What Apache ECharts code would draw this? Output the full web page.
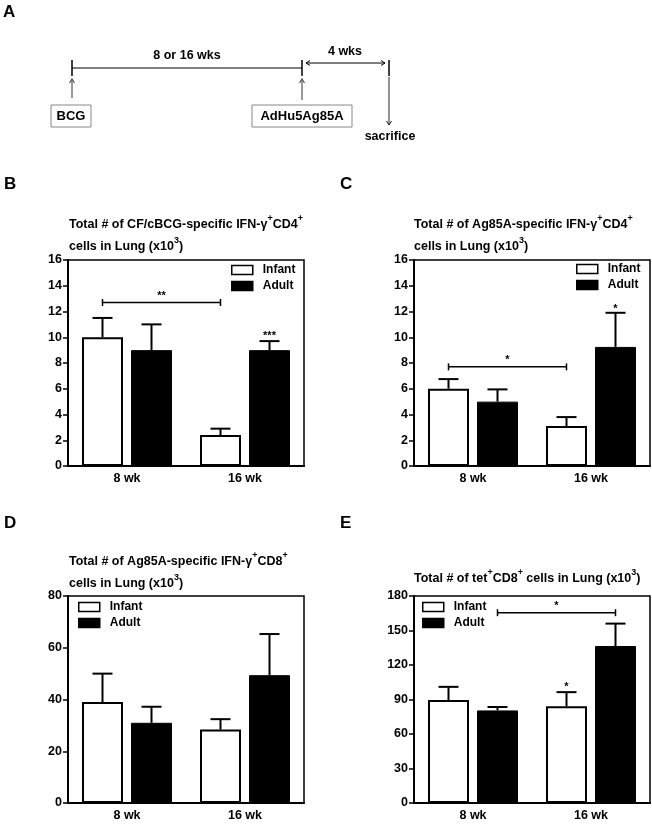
<!DOCTYPE html>
<html>
<head>
<meta charset="utf-8">
<script src="https://cdn.jsdelivr.net/npm/echarts@6/dist/echarts.min.js"></script>
<style>
html,body{margin:0;padding:0;background:#fff;}
#chart{width:652px;height:824px;}
</style>
</head>
<body>
<div id="chart"></div>
<script>
// ---- data ----
var categories = ['8 wk', '16 wk'];
var seriesNames = ['Infant', 'Adult'];

var B_infant = [10.0, 2.4];   var B_infantErr = [1.5, 0.5];
var B_adult  = [9.0, 9.0];    var B_adultErr  = [2.0, 0.7];
var C_infant = [6.0, 3.1];    var C_infantErr = [0.75, 0.7];
var C_adult  = [5.0, 9.25];   var C_adultErr  = [0.95, 2.65];
var D_infant = [39.0, 28.4];  var D_infantErr = [11.0, 4.0];
var D_adult  = [31.0, 49.4];  var D_adultErr  = [6.2, 15.9];
var E_infant = [89.5, 84.2];  var E_infantErr = [11.5, 12.2];
var E_adult  = [80.5, 136.5]; var E_adultErr  = [3.0, 19.5];

var yMax = [16, 16, 80, 180];
var yStep = [2, 2, 20, 30];

// brackets: [category1, side1(-1 infant / +1 adult), category2, side2, yValue]
var B_brackets = [[0, -1, 1, -1, 12.7]]; var B_bracketText = ['**'];
var C_brackets = [[0, -1, 1, -1, 7.7]];  var C_bracketText = ['*'];
var D_brackets = [];                     var D_bracketText = [];
var E_brackets = [[0, 1, 1, 1, 165.5]];  var E_bracketText = ['*'];
// single stars: [category, side, yValue]
var B_stars = [[1, 1, 10.1]];  var B_starText = ['***'];
var C_stars = [[1, 1, 12.2]];  var C_starText = ['*'];
var D_stars = [];              var D_starText = [];
var E_stars = [[1, -1, 100.5]]; var E_starText = ['*'];

var panelTitles = [
  '{t|Total # of CF/cBCG-specific IFN-γ}{s|+}{t|CD4}{s|+}\n{t|cells in Lung (x10}{s|3}{t|)}',
  '{t|Total # of Ag85A-specific IFN-γ}{s|+}{t|CD4}{s|+}\n{t|cells in Lung (x10}{s|3}{t|)}',
  '{t|Total # of Ag85A-specific IFN-γ}{s|+}{t|CD8}{s|+}\n{t|cells in Lung (x10}{s|3}{t|)}',
  '{t|Total # of tet}{s|+}{t|CD8}{s|+}{t| cells in Lung (x10}{s|3}{t|)}'
];
var panelLetters = ['A', 'B', 'C', 'D', 'E'];

// ---- layout / style ----
var FONT = '"Liberation Sans", Arial, sans-serif';
var BAR_W = 41, BAR_GAP = 8;
var grids = [
  {left: 68,  top: 260, width: 236, height: 206},
  {left: 414, top: 260, width: 236, height: 206},
  {left: 68,  top: 596, width: 236, height: 207},
  {left: 414, top: 596, width: 236, height: 207}
];
var titlePos = [
  {left: 69, top: 214}, {left: 414, top: 214},
  {left: 69, top: 551}, {left: 414, top: 568}
];
var legendPos = [
  {left: 231, top: 264}, {left: 576, top: 263},
  {left: 78, top: 601},  {left: 422, top: 601}
];
var letterPos = [[3, 4], [4, 176], [340, 176], [4, 515], [340, 515]];

var infantVals = [B_infant, C_infant, D_infant, E_infant];
var infantErrs = [B_infantErr, C_infantErr, D_infantErr, E_infantErr];
var adultVals = [B_adult, C_adult, D_adult, E_adult];
var adultErrs = [B_adultErr, C_adultErr, D_adultErr, E_adultErr];
var brackets = [B_brackets, C_brackets, D_brackets, E_brackets];
var bracketTexts = [B_bracketText, C_bracketText, D_bracketText, E_bracketText];
var stars = [B_stars, C_stars, D_stars, E_stars];
var starTexts = [B_starText, C_starText, D_starText, E_starText];

var chart = echarts.init(document.getElementById('chart'), null, {renderer: 'canvas'});
var OFF = (BAR_W + BAR_GAP) / 2;

function errRender(side) {
  return function (params, api) {
    var c = api.value(0);
    var base = api.coord([c, api.value(1)]);
    var top = api.coord([c, api.value(1) + api.value(2)]);
    var x = base[0] + side * OFF;
    var cap = 10;
    return {
      type: 'group',
      children: [
        {type: 'line', shape: {x1: x, y1: base[1], x2: x, y2: top[1]}, style: {stroke: '#000', lineWidth: 2}},
        {type: 'line', shape: {x1: x - cap, y1: top[1], x2: x + cap, y2: top[1]}, style: {stroke: '#000', lineWidth: 2}}
      ]
    };
  };
}
function bracketRender(texts) {
  return function (params, api) {
    var p1 = api.coord([api.value(0), api.value(4)]);
    var p2 = api.coord([api.value(2), api.value(4)]);
    var x1 = p1[0] + api.value(1) * OFF;
    var x2 = p2[0] + api.value(3) * OFF;
    var y = p1[1];
    return {
      type: 'group',
      children: [
        {type: 'line', shape: {x1: x1, y1: y, x2: x2, y2: y}, style: {stroke: '#000', lineWidth: 1.5}},
        {type: 'line', shape: {x1: x1, y1: y - 3.5, x2: x1, y2: y + 3.5}, style: {stroke: '#000', lineWidth: 1.5}},
        {type: 'line', shape: {x1: x2, y1: y - 3.5, x2: x2, y2: y + 3.5}, style: {stroke: '#000', lineWidth: 1.5}},
        {type: 'text', style: {text: texts[params.dataIndex], x: (x1 + x2) / 2, y: y - 1, align: 'center', verticalAlign: 'bottom',
          font: 'bold 11px ' + FONT, fill: '#000'}}
      ]
    };
  };
}
function starRender(texts) {
  return function (params, api) {
    var p = api.coord([api.value(0), api.value(2)]);
    return {
      type: 'text',
      style: {text: texts[params.dataIndex], x: p[0] + api.value(1) * OFF, y: p[1], align: 'center', verticalAlign: 'middle',
        font: 'bold 11px ' + FONT, fill: '#000'}
    };
  };
}

var option = {
  backgroundColor: '#fff',
  animation: false,
  textStyle: {fontFamily: FONT},
  grid: [], xAxis: [], yAxis: [], series: [], title: [], legend: [], graphic: []
};

for (var i = 0; i < 4; i++) {
  option.grid.push(Object.assign({show: true, borderColor: '#000', borderWidth: 1.5, backgroundColor: 'transparent'}, grids[i]));
  option.xAxis.push({
    type: 'category', gridIndex: i, data: categories,
    axisLine: {lineStyle: {color: '#000', width: 2}},
    axisTick: {alignWithLabel: true, length: 5, lineStyle: {color: '#000', width: 1.5}},
    axisLabel: {color: '#000', fontWeight: 'bold', fontSize: 12.5, fontFamily: FONT, margin: 6}
  });
  option.yAxis.push({
    type: 'value', gridIndex: i, min: 0, max: yMax[i], interval: yStep[i],
    axisLine: {show: true, lineStyle: {color: '#000', width: 2}},
    axisTick: {show: true, length: 5, lineStyle: {color: '#000', width: 1.5}},
    splitLine: {show: false},
    axisLabel: {color: '#000', fontWeight: 'bold', fontSize: 12.5, fontFamily: FONT, margin: 6}
  });
  option.series.push({
    name: 'Infant', type: 'bar', xAxisIndex: i, yAxisIndex: i, data: infantVals[i],
    barWidth: BAR_W, barGap: (BAR_GAP / BAR_W * 100) + '%',
    itemStyle: {color: '#fff', borderColor: '#000', borderWidth: 2}
  });
  option.series.push({
    name: 'Adult', type: 'bar', xAxisIndex: i, yAxisIndex: i, data: adultVals[i],
    barWidth: BAR_W, barGap: (BAR_GAP / BAR_W * 100) + '%',
    itemStyle: {color: '#000', borderColor: '#000', borderWidth: 1}
  });
  option.series.push({
    type: 'custom', xAxisIndex: i, yAxisIndex: i, z: 5,
    data: infantVals[i].map(function (v, k) { return [k, v, infantErrs[i][k]]; }),
    renderItem: errRender(-1)
  });
  option.series.push({
    type: 'custom', xAxisIndex: i, yAxisIndex: i, z: 5,
    data: adultVals[i].map(function (v, k) { return [k, v, adultErrs[i][k]]; }),
    renderItem: errRender(1)
  });
  if (brackets[i].length) {
    option.series.push({
      type: 'custom', xAxisIndex: i, yAxisIndex: i, z: 6,
      data: brackets[i], renderItem: bracketRender(bracketTexts[i])
    });
  }
  if (stars[i].length) {
    option.series.push({
      type: 'custom', xAxisIndex: i, yAxisIndex: i, z: 6,
      data: stars[i], renderItem: starRender(starTexts[i])
    });
  }
  option.title.push({
    text: panelTitles[i], left: titlePos[i].left, top: titlePos[i].top, padding: 0,
    textStyle: {
      rich: {
        t: {fontSize: 12.5, fontWeight: 'bold', fontFamily: FONT, color: '#000', lineHeight: 22},
        s: {fontSize: 9, fontWeight: 'bold', fontFamily: FONT, color: '#000', lineHeight: 12, verticalAlign: 'top'}
      }
    }
  });
  option.legend.push({
    data: seriesNames, orient: 'vertical', left: legendPos[i].left, top: legendPos[i].top,
    padding: 0, itemGap: 4, itemWidth: 21, itemHeight: 9, icon: 'rect', selectedMode: false,
    itemStyle: {borderColor: '#000', borderWidth: 1.5},
    textStyle: {color: '#000', fontWeight: 'bold', fontSize: 12, fontFamily: FONT, padding: [0, 0, 0, 5]}
  });
}

// panel letters
for (var j = 0; j < panelLetters.length; j++) {
  option.graphic.push({type: 'text', left: letterPos[j][0], top: letterPos[j][1],
    style: {text: panelLetters[j], font: 'bold 17px ' + FONT, fill: '#000'}});
}

// panel A: schedule diagram
var lineStyle = {stroke: '#000', lineWidth: 1};
var grayArrow = {stroke: '#555', lineWidth: 1.2};
option.graphic.push(
  {type: 'line', shape: {x1: 72, y1: 68, x2: 302, y2: 68}, style: lineStyle},
  {type: 'line', shape: {x1: 72, y1: 60, x2: 72, y2: 76}, style: {stroke: '#000', lineWidth: 1.5}},
  {type: 'line', shape: {x1: 302, y1: 60, x2: 302, y2: 76}, style: {stroke: '#000', lineWidth: 1.5}},
  {type: 'line', shape: {x1: 389, y1: 60, x2: 389, y2: 76}, style: {stroke: '#000', lineWidth: 1.5}},
  {type: 'line', shape: {x1: 306, y1: 63, x2: 385, y2: 63}, style: lineStyle},
  {type: 'polyline', shape: {points: [[310, 60.5], [306, 63], [310, 65.5]]}, style: lineStyle},
  {type: 'polyline', shape: {points: [[381, 60.5], [385, 63], [381, 65.5]]}, style: lineStyle},
  {type: 'text', style: {text: '8 or 16 wks', x: 187, y: 56, align: 'center', verticalAlign: 'middle', font: 'bold 12.5px ' + FONT, fill: '#000'}},
  {type: 'text', style: {text: '4 wks', x: 345, y: 52, align: 'center', verticalAlign: 'middle', font: 'bold 12.5px ' + FONT, fill: '#000'}},
  {type: 'line', shape: {x1: 72, y1: 98, x2: 72, y2: 79}, style: grayArrow},
  {type: 'polyline', shape: {points: [[69.5, 83], [72, 79], [74.5, 83]]}, style: grayArrow},
  {type: 'line', shape: {x1: 302, y1: 100, x2: 302, y2: 79}, style: grayArrow},
  {type: 'polyline', shape: {points: [[299.5, 83], [302, 79], [304.5, 83]]}, style: grayArrow},
  {type: 'line', shape: {x1: 389, y1: 77, x2: 389, y2: 125}, style: {stroke: '#222', lineWidth: 1}},
  {type: 'polyline', shape: {points: [[386.5, 121], [389, 125], [391.5, 121]]}, style: {stroke: '#222', lineWidth: 1}},
  {type: 'rect', shape: {x: 51, y: 105, width: 40, height: 22}, style: {stroke: '#888', fill: 'none', lineWidth: 1}},
  {type: 'text', style: {text: 'BCG', x: 71, y: 116, align: 'center', verticalAlign: 'middle', font: 'bold 13px ' + FONT, fill: '#000'}},
  {type: 'rect', shape: {x: 252, y: 105, width: 100, height: 22}, style: {stroke: '#888', fill: 'none', lineWidth: 1}},
  {type: 'text', style: {text: 'AdHu5Ag85A', x: 302, y: 116, align: 'center', verticalAlign: 'middle', font: 'bold 13px ' + FONT, fill: '#000'}},
  {type: 'text', style: {text: 'sacrifice', x: 390, y: 137, align: 'center', verticalAlign: 'middle', font: 'bold 12.5px ' + FONT, fill: '#000'}}
);

chart.setOption(option);
</script>
</body>
</html>
